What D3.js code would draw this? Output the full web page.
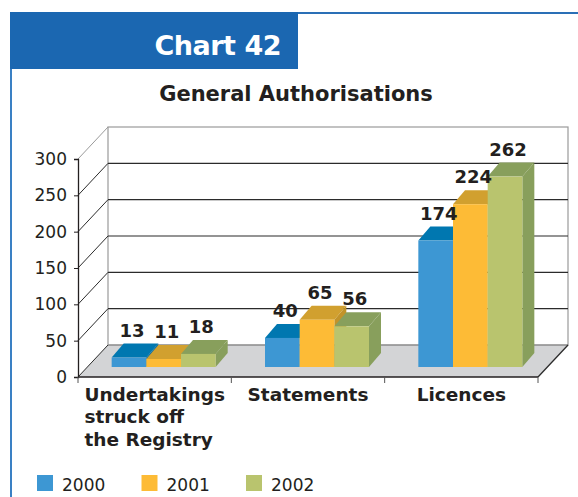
<!DOCTYPE html>
<html>
<head>
<meta charset="utf-8">
<script src="https://cdn.jsdelivr.net/npm/d3@7"></script>
<style>
  body { margin: 0; background: #fff; }
  svg text { font-family: "DejaVu Sans", sans-serif; fill: #231f20; }
</style>
</head>
<body>
<div id="chart"></div>
<script>
// data
var categories = ["Undertakings\nstruck off\nthe Registry", "Statements", "Licences"];
var years = ["2000", "2001", "2002"];
var values2000 = [13, 40, 174];
var values2001 = [11, 65, 224];
var values2002 = [18, 56, 262];
var yTicks = [0, 50, 100, 150, 200, 250, 300];

var series = [values2000, values2001, values2002];
var frontCol = ["#3d97d3", "#fdbb36", "#b9c46e"];
var topCol = ["#0077b0", "#d1a02f", "#889f5c"];
var sideCol = ["#0a6fa3", "#c29329", "#889f5c"];

var width = 578, height = 497;

var svg = d3.select("#chart").append("svg")
    .attr("width", width)
    .attr("height", height);

// header
svg.append("rect")
    .attr("x", 10).attr("y", 12)
    .attr("width", 288).attr("height", 57)
    .attr("fill", "#1b67b1");
svg.append("line")
    .attr("x1", 298).attr("x2", 578).attr("y1", 13).attr("y2", 13)
    .attr("stroke", "#2a6fb6").attr("stroke-width", 2);
svg.append("line")
    .attr("x1", 11).attr("x2", 11).attr("y1", 69).attr("y2", height)
    .attr("stroke", "#3a80c4").attr("stroke-width", 2);
svg.append("text")
    .attr("x", 281).attr("y", 55)
    .attr("text-anchor", "end")
    .style("fill", "#fff")
    .style("font-weight", "bold")
    .style("font-size", "27px")
    .style("letter-spacing", "-0.5px")
    .text("Chart 42");

svg.append("text")
    .attr("x", 296).attr("y", 101)
    .attr("text-anchor", "middle")
    .style("font-weight", "bold")
    .style("font-size", "21px")
    .text("General Authorisations");

// 3d frame
var left = 78, right = 538;
var depthX = 30, depthY = -32;

var y = d3.scaleLinear().domain([0, 300]).range([377, 159]);
var x = d3.scaleBand().domain(categories).range([left, right]);
var groupW = 104;
var xSub = d3.scaleBand().domain(years).range([0, groupW]);

var frame = svg.append("g");

// floor
frame.append("polygon")
    .attr("points", [[left, y(0)], [right, y(0)], [right + depthX, y(0) + depthY], [left + depthX, y(0) + depthY]].join(" "))
    .attr("fill", "#d3d4d6");

// back wall
frame.append("rect")
    .attr("x", left + depthX).attr("y", y(300) + depthY)
    .attr("width", right - left).attr("height", y(0) - y(300))
    .attr("fill", "#fff").attr("stroke", "#9a9a9a").attr("stroke-width", 1.2);

// gridlines on the wall + diagonals
frame.selectAll(".grid")
    .data(yTicks.filter(function(d) { return d > 0 && d < 300; }))
  .enter().append("line")
    .attr("x1", left + depthX).attr("x2", right + depthX)
    .attr("y1", function(d) { return y(d) + depthY; })
    .attr("y2", function(d) { return y(d) + depthY; })
    .attr("stroke", "#2b2b2b").attr("stroke-width", 1.1);

frame.selectAll(".diag")
    .data(yTicks)
  .enter().append("line")
    .attr("x1", left).attr("x2", left + depthX)
    .attr("y1", function(d) { return y(d); })
    .attr("y2", function(d) { return y(d) + depthY; })
    .attr("stroke", function(d) { return d == 300 ? "#9a9a9a" : "#2b2b2b"; })
    .attr("stroke-width", 1);

// floor edges
frame.append("line")
    .attr("x1", left + depthX).attr("x2", right + depthX)
    .attr("y1", y(0) + depthY).attr("y2", y(0) + depthY)
    .attr("stroke", "#8a8a8a").attr("stroke-width", 1.2);
frame.append("line")
    .attr("x1", right).attr("x2", right + depthX)
    .attr("y1", y(0)).attr("y2", y(0) + depthY)
    .attr("stroke", "#2b2b2b").attr("stroke-width", 1.2);

// y axis
var yAxis = d3.axisLeft(y).tickValues(yTicks).tickSize(4).tickPadding(7);
var ya = frame.append("g")
    .attr("transform", "translate(" + left + ",0)")
    .call(yAxis);
ya.select(".domain").attr("stroke", "#231f20").attr("stroke-width", 1.3);
ya.selectAll(".tick line").attr("stroke", "#231f20");
ya.selectAll(".tick text")
    .style("font-size", "17px")
    .style("font-family", "'DejaVu Sans', sans-serif")
    .attr("fill", "#333");

// x axis (front edge)
frame.append("line")
    .attr("x1", left).attr("x2", right)
    .attr("y1", y(0)).attr("y2", y(0))
    .attr("stroke", "#231f20").attr("stroke-width", 1.4);
var xTickPos = categories.map(function(c) { return x(c); }).concat([right]);
frame.selectAll(".xtick")
    .data(xTickPos)
  .enter().append("line")
    .attr("x1", function(d) { return d; }).attr("x2", function(d) { return d; })
    .attr("y1", y(0)).attr("y2", y(0) + 6)
    .attr("stroke", "#555").attr("stroke-width", 1);

// bars
var barOffX = 9, barOffY = -10;   // where the bars sit on the floor
var barDX = 12, barDY = -14;      // bar depth
var bw = xSub.bandwidth();

categories.forEach(function(cat, ci) {
    var g = svg.append("g");
    years.forEach(function(yr, si) {
        var v = series[si][ci];
        var x0 = x(cat) + (x.bandwidth() - groupW) / 2 + xSub(yr) + barOffX;
        var base = y(0) + barOffY;
        var top = y(v) + barOffY;

        g.append("polygon")
            .attr("points", [[x0, top], [x0 + bw, top], [x0 + bw + barDX, top + barDY], [x0 + barDX, top + barDY]].join(" "))
            .attr("fill", topCol[si]);
        g.append("polygon")
            .attr("points", [[x0 + bw, top], [x0 + bw + barDX, top + barDY], [x0 + bw + barDX, base + barDY], [x0 + bw, base]].join(" "))
            .attr("fill", sideCol[si]);
        g.append("rect")
            .attr("x", x0).attr("y", top)
            .attr("width", bw).attr("height", base - top)
            .attr("fill", frontCol[si]);
    });
    years.forEach(function(yr, si) {
        var v = series[si][ci];
        var x0 = x(cat) + (x.bandwidth() - groupW) / 2 + xSub(yr) + barOffX;
        g.append("text")
            .attr("x", x0 + bw / 2 + 3)
            .attr("y", y(v) + barOffY + barDY - 7)
            .attr("text-anchor", "middle")
            .style("font-weight", "bold")
            .style("font-size", "18px")
            .text(v);
    });
});

// category labels, block centred under each band, lines left aligned
categories.forEach(function(cat) {
    var lines = cat.split("\n");
    var t = svg.append("text")
        .style("font-weight", "bold")
        .style("font-size", "18.5px");
    lines.forEach(function(l, i) {
        t.append("tspan")
            .attr("y", 401 + i * 22.3)
            .text(l);
    });
    var w = d3.max(t.selectAll("tspan").nodes(), function(n) { return n.getComputedTextLength(); });
    var cx = x(cat) + x.bandwidth() / 2 - w / 2;
    t.selectAll("tspan").attr("x", cx);
});

// legend
var leg = svg.append("g").attr("transform", "translate(37,475)");
years.forEach(function(yr, i) {
    var lg = leg.append("g").attr("transform", "translate(" + (i * 104.5) + ",0)");
    lg.append("rect")
        .attr("width", 16).attr("height", 16)
        .attr("fill", frontCol[i]);
    lg.append("text")
        .attr("x", 25).attr("y", 16)
        .style("font-size", "17px")
        .text(yr);
});
</script>
</body>
</html>
